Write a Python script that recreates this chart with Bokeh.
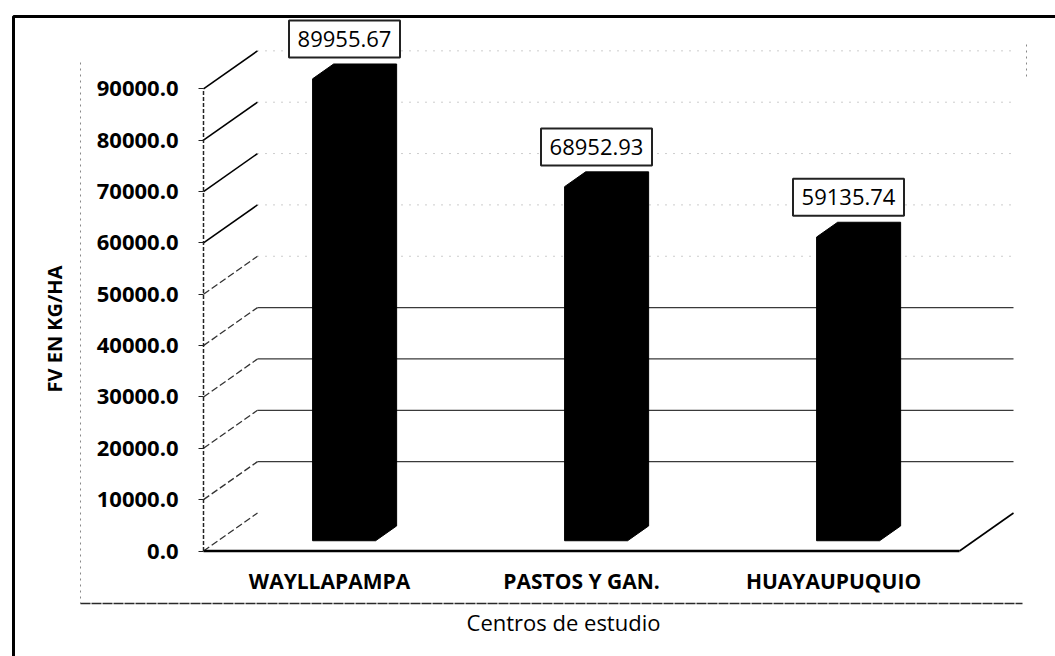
from bokeh.plotting import figure
from bokeh.models import Range1d, FixedTicker, ColumnDataSource
from bokeh.core.properties import value
from bokeh.embed import file_html
from bokeh.resources import INLINE

# ---------------- data ----------------
categories = ["WAYLLAPAMPA", "PASTOS Y GAN.", "HUAYAUPUQUIO"]
fv_kg_ha = [89955.67, 68952.93, 59135.74]
y_ticks = [0, 10000, 20000, 30000, 40000, 50000, 60000, 70000, 80000, 90000]
y_tick_labels = ["0.0", "10000.0", "20000.0", "30000.0", "40000.0",
                 "50000.0", "60000.0", "70000.0", "80000.0", "90000.0"]
y_title = "FV EN KG/HA"
x_title = "Centros de estudio"

# ---------------- geometry (screen layout) ----------------
W, H = 1055, 656
PAGE = 0
X0_PX = 203.0      # page x of value axis
CAT_PX = 252.0     # px per category slot
Y0_PX = 550.5      # page y of value 0
V_PX = 51.35 / 10000.0  # px per unit value


def dx(px):
    return (px - X0_PX) / CAT_PX


def dy(py):
    return (Y0_PX - py) / V_PX


DDX = 54.0 / CAT_PX        # depth offset in data x
DDY = 38.0 / V_PX          # depth offset in data y
NCAT = len(categories)
BAR_W = 0.25
F_DEPTH, B_DEPTH = 0.27, 0.66
LBL_DX, LBL_DY = 15.0 / CAT_PX, 50.0 / V_PX

p = figure(width=W, height=H, output_backend="svg", toolbar_location=None,
           x_range=Range1d(dx(PAGE), dx(PAGE + W)),
           y_range=Range1d(dy(PAGE + H), dy(PAGE)),
           min_border=0, background_fill_color="white",
           border_fill_color="white", outline_line_color=None)
p.grid.visible = False

# outer frame (top and left edges)
p.line([dx(13), dx(13), dx(1060)], [dy(660), dy(16), dy(16)],
       line_color="black", line_width=3)
# plot area box (dashed)
p.line([dx(80), dx(80)], [dy(62), dy(603)], line_color="#888888",
       line_width=1, line_dash="2 4")
p.line([dx(80), dx(1022)], [dy(603), dy(603)], line_color="#2a2a2a",
       line_width=1.5, line_dash="10 1")
p.line([dx(1026), dx(1026)], [dy(44), dy(76)], line_color="#888888",
       line_width=1, line_dash="2 4")

# back-wall gridlines + side-wall diagonals
top = y_ticks[-1]
for v in y_ticks:
    if v >= 60000:
        p.line([0, DDX], [v, v + DDY], line_color="black", line_width=1.6)
    else:
        p.line([0, DDX], [v, v + DDY], line_color="#333333", line_width=1.3,
               line_dash="7 3")
    if v == 0:
        continue
    if v <= 40000:
        p.line([DDX, NCAT + DDX], [v + DDY, v + DDY], line_color="#3a3a3a",
               line_width=1.2)
    else:
        p.line([DDX, NCAT + DDX], [v + DDY, v + DDY], line_color="#9a9a9a",
               line_width=1, line_dash="1 7")

# floor: front edge and right edge
p.line([0, NCAT], [0, 0], line_color="black", line_width=2.5)
p.line([NCAT, NCAT + DDX], [0, DDY], line_color="black", line_width=1.6)
# value-axis line
p.line([0, 0], [0, top], line_color="#222222", line_width=1.5,
       line_dash="4 2")

# 3D bars (front face + depth)
xs, ys = [], []
ex, ey = (B_DEPTH - F_DEPTH) * DDX, (B_DEPTH - F_DEPTH) * DDY
for i, v in enumerate(fv_kg_ha):
    c = i + 0.5
    x0 = c - BAR_W / 2 + F_DEPTH * DDX
    x1 = c + BAR_W / 2 + F_DEPTH * DDX
    y0 = F_DEPTH * DDY
    y1 = v + F_DEPTH * DDY
    xs.append([x0, x1, x1 + ex, x1 + ex, x0 + ex, x0])
    ys.append([y0, y0, y0 + ey, y1 + ey, y1 + ey, y1])
p.patches(xs, ys, fill_color="black", line_color="black", line_width=1)

# data labels (boxed)
src = ColumnDataSource(dict(x=[i + 0.5 + LBL_DX for i in range(NCAT)],
                            y=[v + LBL_DY for v in fv_kg_ha],
                            t=[f"{v:.2f}" for v in fv_kg_ha]))
p.rect(x="x", y="y", width=111, height=37, width_units="screen",
       height_units="screen", source=src, fill_color="white",
       line_color="#222222", line_width=2)
p.text(x="x", y="y", text="t", source=src, text_align="center",
       text_baseline="middle", text_font=value("Open Sans"),
       text_font_size=value("22px"), text_color="black")

# value axis (label centred a bit lower, as in the source)
ya = p.yaxis[0]
ya.fixed_location = 0
ya.bounds = (-top * 0.04, top)
ya.ticker = FixedTicker(ticks=y_ticks)
ya.major_label_overrides = {t: l for t, l in zip(y_ticks, y_tick_labels)}
ya.major_label_text_font = "Open Sans"
ya.major_label_text_font_style = "bold"
ya.major_label_text_font_size = "22px"
ya.major_label_text_color = "black"
ya.major_label_standoff = 20
ya.major_tick_in = 0
ya.major_tick_out = 5
ya.minor_tick_in = 0
ya.minor_tick_out = 0
ya.major_tick_line_color = "#222222"
ya.axis_line_color = None
ya.axis_label = y_title
ya.axis_label_text_font = "Open Sans"
ya.axis_label_text_font_style = "bold"
ya.axis_label_text_font_size = "20px"
ya.axis_label_text_color = "black"
ya.axis_label_standoff = 26

# category axis
xa = p.xaxis[0]
xa.fixed_location = 0
xa.bounds = (0, NCAT * 0.953)
xa.ticker = FixedTicker(ticks=[i + 0.5 for i in range(NCAT)])
xa.major_label_overrides = {i + 0.5: c for i, c in enumerate(categories)}
xa.major_label_text_font = "Open Sans"
xa.major_label_text_font_style = "bold"
xa.major_label_text_font_size = "21px"
xa.major_label_text_color = "black"
xa.major_label_standoff = 16
xa.major_tick_in = 0
xa.major_tick_out = 0
xa.minor_tick_in = 0
xa.minor_tick_out = 0
xa.axis_line_color = None
xa.axis_label = x_title
xa.axis_label_text_font = "Open Sans"
xa.axis_label_text_font_style = "normal"
xa.axis_label_text_font_size = "22px"
xa.axis_label_text_color = "black"
xa.axis_label_standoff = 8

open("out.html", "w").write(file_html(p, INLINE))
